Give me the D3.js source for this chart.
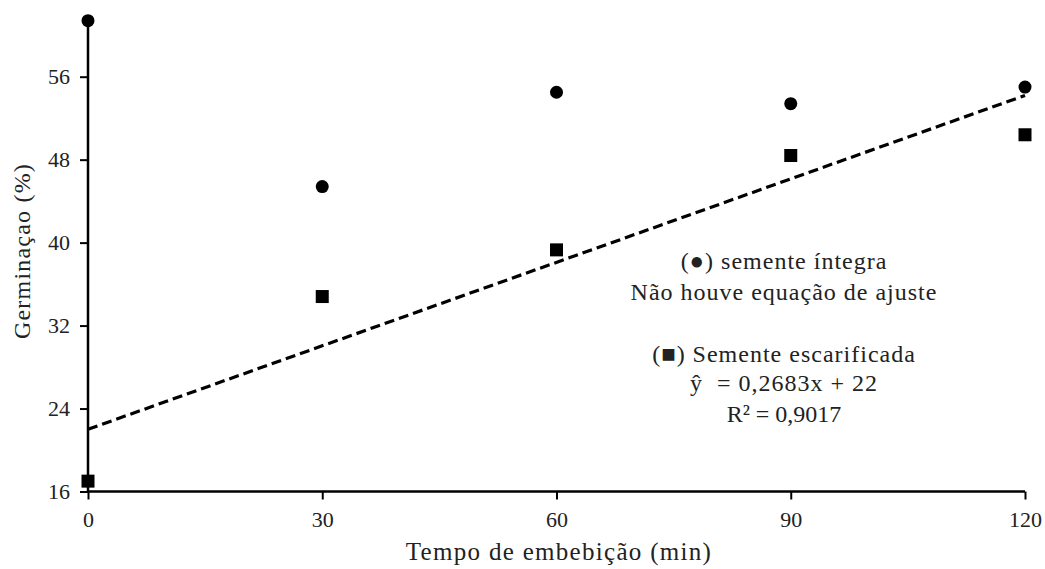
<!DOCTYPE html>
<html>
<head>
<meta charset="utf-8">
<script src="https://cdn.jsdelivr.net/npm/d3@7"></script>
<style>
body { margin: 0; background: #fff; }
</style>
</head>
<body>
<svg id="chart" width="1045" height="569"></svg>
<script>
// data
var tempos = [0, 30, 60, 90, 120];
var integra = [61.4, 45.4, 54.5, 53.4, 55.0];
var escarificada = [17.0, 34.8, 39.3, 48.4, 50.4];
var yTicks = [16, 24, 32, 40, 48, 56];
var xTicks = [0, 30, 60, 90, 120];
var coefA = 0.2683, coefB = 22;
var notas = [
  '(●) semente íntegra',
  'Não houve equação de ajuste',
  '(■) Semente escarificada',
  'ŷ\u00a0\u00a0= 0,2683x + 22',
  'R² = 0,9017'
];

var fonte = 'Liberation Serif';
var svg = d3.select('#chart');

var x = d3.scaleLinear().domain([0, 120]).range([88, 1025]);
var y = d3.scaleLinear().domain([16, 56]).range([491.5, 76.7]);

// axes
var xAxis = svg.append('g')
    .attr('transform', 'translate(0,' + y(16) + ')')
    .call(d3.axisBottom(x).tickValues(xTicks).tickSize(8).tickPadding(12));
var yAxis = svg.append('g')
    .attr('transform', 'translate(' + x(0) + ',0)')
    .call(d3.axisLeft(y).tickValues(yTicks).tickSize(8).tickPadding(10));

[xAxis, yAxis].forEach(function(g) {
  g.select('.domain').remove();
  g.selectAll('line').attr('stroke', '#000').attr('stroke-width', 2);
  g.selectAll('text').attr('fill', '#222');
});

svg.append('line')
    .attr('x1', x(0)).attr('x2', x(120))
    .attr('y1', y(16)).attr('y2', y(16))
    .attr('stroke', '#000').attr('stroke-width', 2.5);
svg.append('line')
    .attr('x1', x(0)).attr('x2', x(0))
    .attr('y1', y(16)).attr('y2', y(61.4))
    .attr('stroke', '#000').attr('stroke-width', 2.5);

// trend line
svg.append('line')
    .attr('x1', x(0)).attr('y1', y(coefB))
    .attr('x2', x(120)).attr('y2', y(coefA * 120 + coefB))
    .attr('stroke', '#000').attr('stroke-width', 3.2)
    .attr('stroke-dasharray', '10,5');

// points
svg.selectAll('circle.int').data(tempos).enter().append('circle')
    .attr('class', 'int')
    .attr('cx', function(d) { return x(d); })
    .attr('cy', function(d, i) { return y(integra[i]); })
    .attr('r', 6.5)
    .attr('fill', '#000');

svg.selectAll('rect.esc').data(tempos).enter().append('rect')
    .attr('class', 'esc')
    .attr('x', function(d) { return x(d) - 6.5; })
    .attr('y', function(d, i) { return y(escarificada[i]) - 6.5; })
    .attr('width', 13).attr('height', 13)
    .attr('fill', '#000');

// axis titles
svg.append('text')
    .attr('x', 559).attr('y', 560)
    .attr('text-anchor', 'middle')
    .attr('font-size', 25).attr('letter-spacing', 1.3).attr('fill', '#222')
    .text('Tempo de embebição (min)');
svg.append('text')
    .attr('transform', 'translate(30,251) rotate(-90)')
    .attr('text-anchor', 'middle')
    .attr('font-size', 24).attr('letter-spacing', 1.2).attr('fill', '#222')
    .text('Germinaçao (%)');

// annotation
var linhaY = [269, 300, 362, 391, 422];
svg.selectAll('text.nota').data(notas).enter().append('text')
    .attr('class', 'nota')
    .attr('x', 784)
    .attr('y', function(d, i) { return linhaY[i]; })
    .attr('text-anchor', 'middle')
    .attr('font-size', 24)
    .attr('letter-spacing', function(d, i) { return i == 4 ? 0 : 1; })
    .attr('fill', '#222')
    .text(function(d) { return d; });

// same serif face on every text
svg.selectAll('text').attr('font-family', fonte);
xAxis.selectAll('text').attr('font-size', 22);
yAxis.selectAll('text').attr('font-size', 22);
</script>
</body>
</html>
